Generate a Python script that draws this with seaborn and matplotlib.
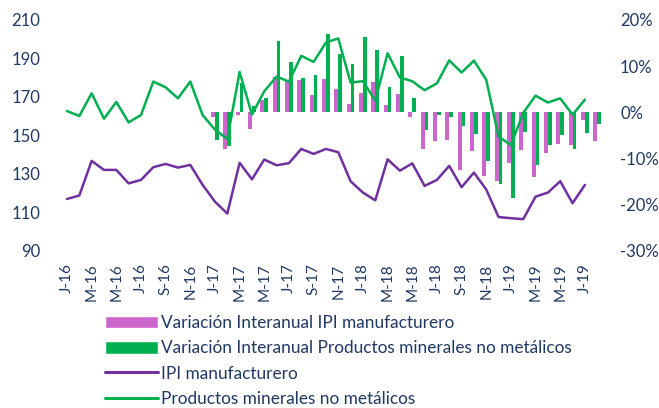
import pandas as pd
import numpy as np
import seaborn as sns
import matplotlib.pyplot as plt
from matplotlib.patches import Patch
from matplotlib.lines import Line2D
from matplotlib.ticker import FuncFormatter

# months Jan-2016 .. Aug-2019
n_months = 44
tick_labels = ['J-16', 'M-16', 'M-16', 'J-16', 'S-16', 'N-16',
               'J-17', 'M-17', 'M-17', 'J-17', 'S-17', 'N-17',
               'J-18', 'M-18', 'M-18', 'J-18', 'S-18', 'N-18',
               'J-19', 'M-19', 'M-19', 'J-19']

# indices (left axis), Jan-2016 .. Jul-2019
ipi_manuf = [117.0, 118.8, 136.8, 132.1, 132.1, 125.1, 126.9, 133.5, 135.2, 133.3,
             134.7, 124.3, 115.6, 109.4, 135.8, 127.2, 137.5, 134.5, 135.6, 143.0,
             140.4, 143.0, 141.3, 126.2, 120.3, 116.3, 137.6, 131.7, 135.5, 123.8,
             126.9, 134.2, 123.1, 130.7, 121.9, 107.6, 107.0, 106.5, 118.2, 120.3,
             126.2, 114.8, 124.3]
minerales = [162.7, 160.1, 171.9, 158.7, 167.4, 156.8, 160.6, 178.0, 175.0, 169.3,
             178.0, 160.6, 153.0, 148.2, 183.0, 160.8, 173.0, 180.6, 178.0, 191.4,
             188.2, 198.3, 200.4, 177.5, 178.2, 168.1, 192.7, 180.1, 178.2, 173.5,
             177.1, 189.0, 182.7, 188.9, 178.9, 149.4, 145.0, 161.7, 170.7, 167.1,
             169.3, 160.8, 168.6]

# year-on-year variation (%, right axis), Jan-2017 .. Aug-2019
var_ipi = [-1.0, -7.9, -0.5, -3.7, 2.7, 7.7, 6.8, 7.0, 3.7, 7.3,
           5.0, 1.9, 4.2, 6.5, 1.7, 4.0, -0.9, -7.9, -6.3, -6.0,
           -12.5, -8.3, -13.7, -14.9, -10.9, -8.2, -13.9, -8.8, -6.8, -7.1,
           -1.7, -6.3]
var_minerales = [-5.9, -7.3, 6.3, 1.3, 3.2, 15.5, 10.8, 7.5, 8.0, 16.9,
                 12.7, 10.4, 16.3, 13.5, 5.4, 12.1, 3.2, -3.9, -0.5, -1.0,
                 -2.9, -4.6, -10.6, -15.5, -18.5, -4.3, -11.3, -7.1, -5.0, -8.0,
                 -4.5, -2.6]

lab_var_ipi = 'Variación Interanual IPI manufacturero'
lab_var_min = 'Variación Interanual Productos minerales no metálicos'
lab_ipi = 'IPI manufacturero'
lab_min = 'Productos minerales no metálicos'

pink = '#CC66CC'
green = '#00B050'
purple = '#7030A0'
navy = '#1F3864'

lines_df = pd.DataFrame({'mes': np.arange(len(ipi_manuf)),
                         'ipi': ipi_manuf, 'min': minerales})
bar_idx = np.arange(12, 12 + len(var_ipi))
bars_df = pd.concat([
    pd.DataFrame({'mes': bar_idx, 'valor': var_ipi, 'serie': lab_var_ipi}),
    pd.DataFrame({'mes': bar_idx, 'valor': var_minerales, 'serie': lab_var_min}),
])

sns.set_style('white')
plt.rcParams['font.family'] = ['Lato', 'DejaVu Sans']

fig = plt.figure(figsize=(6.59, 4.08), dpi=100)
ax = fig.add_axes([0.0923, 0.385, 0.8233, 0.566])
ax2 = ax.twinx()

sns.barplot(data=bars_df, x='mes', y='valor', hue='serie', native_scale=True,
            hue_order=[lab_var_ipi, lab_var_min], palette=[pink, green],
            saturation=1, width=0.62, gap=0, linewidth=0, legend=False,
            errorbar=None, ax=ax2)
sns.lineplot(data=lines_df, x='mes', y='ipi', color=purple, linewidth=1.8, ax=ax)
sns.lineplot(data=lines_df, x='mes', y='min', color=green, linewidth=1.8, ax=ax)

ax.set_zorder(ax2.get_zorder() + 1)
ax.patch.set_visible(False)

ax.set_xlim(-0.5, n_months - 0.5)
ax.set_ylim(90, 210)
ax.set_yticks(range(90, 211, 20))
ax2.set_ylim(-30, 20)
ax2.set_yticks(range(-30, 21, 10))
ax2.yaxis.set_major_formatter(FuncFormatter(lambda v, p: f'{v:.0f}%'))

ax.set_xticks(range(0, n_months, 2))
ax.set_xticklabels(tick_labels, rotation=90)
for a in (ax, ax2):
    a.set_xlabel('')
    a.set_ylabel('')
    for s in a.spines.values():
        s.set_visible(False)
    a.tick_params(length=0, colors=navy, labelsize=12)
ax.tick_params(axis='y', pad=15)
ax.tick_params(axis='x', pad=9, labelsize=11)
ax2.tick_params(axis='y', pad=12)

handles = [Patch(facecolor=pink), Patch(facecolor=green),
           Line2D([], [], color=purple, linewidth=2.2),
           Line2D([], [], color=green, linewidth=2.2)]
leg = fig.legend(handles, [lab_var_ipi, lab_var_min, lab_ipi, lab_min],
                 loc='upper left', bbox_to_anchor=(0.159, 0.228), frameon=False,
                 fontsize=12.4, borderpad=0, borderaxespad=0, handlelength=3.1,
                 handleheight=0.75, handletextpad=0.15, labelspacing=0.54)
for t in leg.get_texts():
    t.set_color(navy)

fig.savefig('out.png', dpi=100)
